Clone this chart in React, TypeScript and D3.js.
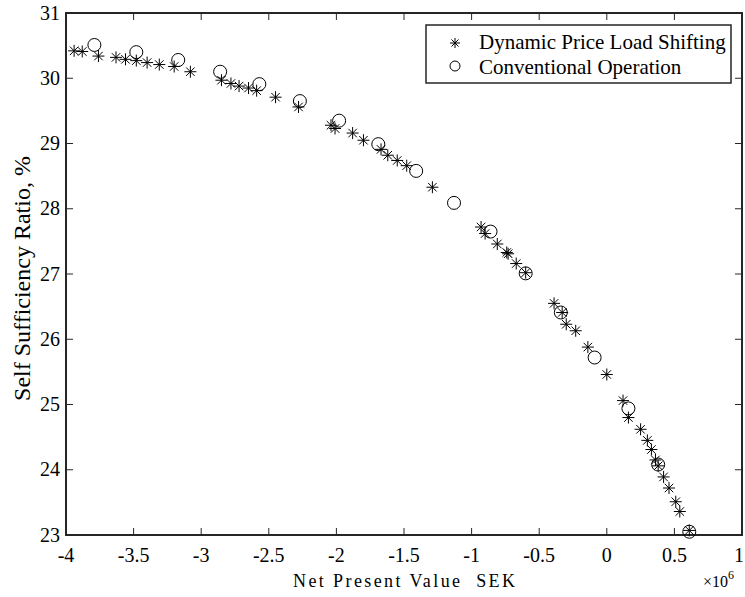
import React from "react";
import * as d3 from "d3";

const dplsX = [-3.94, -3.88, -3.76, -3.63, -3.56, -3.48, -3.40, -3.31, -3.20, -3.08, -2.85, -2.78, -2.72, -2.65, -2.59, -2.45, -2.28, -2.04, -2.01, -1.88, -1.80, -1.67, -1.62, -1.55, -1.48, -1.29, -0.93, -0.90, -0.81, -0.74, -0.73, -0.67, -0.60, -0.39, -0.33, -0.30, -0.23, -0.14, 0.0, 0.12, 0.16, 0.25, 0.30, 0.33, 0.36, 0.38, 0.42, 0.46, 0.51, 0.54, 0.61];
const dplsY = [30.42, 30.41, 30.34, 30.32, 30.29, 30.27, 30.24, 30.21, 30.18, 30.10, 29.97, 29.92, 29.88, 29.85, 29.81, 29.71, 29.56, 29.28, 29.23, 29.16, 29.05, 28.91, 28.82, 28.74, 28.66, 28.33, 27.72, 27.62, 27.46, 27.33, 27.31, 27.16, 27.02, 26.55, 26.41, 26.23, 26.13, 25.88, 25.46, 25.06, 24.80, 24.62, 24.45, 24.31, 24.15, 24.06, 23.89, 23.72, 23.51, 23.36, 23.07];

const convX = [-3.79, -3.48, -3.17, -2.86, -2.57, -2.27, -1.98, -1.69, -1.41, -1.13, -0.86, -0.60, -0.34, -0.09, 0.16, 0.38, 0.61];
const convY = [30.51, 30.40, 30.28, 30.10, 29.91, 29.65, 29.35, 28.99, 28.58, 28.09, 27.65, 27.01, 26.41, 25.72, 24.94, 24.08, 23.05];

const xTicks = [-4, -3.5, -3, -2.5, -2, -1.5, -1, -0.5, 0, 0.5, 1];
const yTicks = [23, 24, 25, 26, 27, 28, 29, 30, 31];

const seriesNames = ["Dynamic Price Load Shifting", "Conventional Operation"];

const L = 66, R = 742, T = 13, B = 535;
const FONT = '"Liberation Serif", "Times New Roman", Times, serif';
const AX = "#262626";

function Star({ cx, cy, s }: { cx: number; cy: number; s: number }) {
  const d = s * 0.7071;
  return (
    <g stroke="#000" strokeWidth={1}>
      <line x1={cx - s} y1={cy} x2={cx + s} y2={cy} />
      <line x1={cx} y1={cy - s} x2={cx} y2={cy + s} />
      <line x1={cx - d} y1={cy - d} x2={cx + d} y2={cy + d} />
      <line x1={cx - d} y1={cy + d} x2={cx + d} y2={cy - d} />
    </g>
  );
}

export default function App() {
  const x = d3.scaleLinear().domain([-4, 1]).range([L, R]);
  const y = d3.scaleLinear().domain([23, 31]).range([B, T]);
  const tl = 7;
  const tx = { fontFamily: FONT };
  const last = xTicks[xTicks.length - 1];
  return (
    <div style={{ position: "fixed", left: 0, top: 0 }}>
      <svg width={745} height={597} style={{ display: "block", background: "#fff" }}>
        <rect x={0} y={0} width={745} height={597} fill="#fff" />
        {xTicks.map((t) => (
          <g key={"xt" + t}>
            <line x1={x(t)} x2={x(t)} y1={B} y2={B - tl} stroke={AX} strokeWidth={1} />
            <line x1={x(t)} x2={x(t)} y1={T} y2={T + tl} stroke={AX} strokeWidth={1} />
            <text style={tx} x={t === last ? 744 : x(t)} y={562} textAnchor={t === last ? "end" : "middle"} fontSize={20} fill="#000">
              {String(t)}
            </text>
          </g>
        ))}
        {yTicks.map((t) => (
          <g key={"yt" + t}>
            <line x1={L} x2={L + tl} y1={y(t)} y2={y(t)} stroke={AX} strokeWidth={1} />
            <line x1={R} x2={R - tl} y1={y(t)} y2={y(t)} stroke={AX} strokeWidth={1} />
            <text style={tx} x={60} y={y(t)} dy="0.33em" textAnchor="end" fontSize={20} fill="#000">
              {String(t)}
            </text>
          </g>
        ))}
        <rect x={L} y={T} width={R - L} height={B - T} fill="none" stroke={AX} strokeWidth={2} />
        {convX.map((v, i) => (
          <circle key={"c" + i} cx={x(v)} cy={y(convY[i])} r={6.5} fill="none" stroke="#000" strokeWidth={1} />
        ))}
        {dplsX.map((v, i) => (
          <Star key={"s" + i} cx={x(v)} cy={y(dplsY[i])} s={6} />
        ))}
        <text x={293} y={587} fontSize={18} fill="#000" textLength={222} lengthAdjust="spacing" style={{ whiteSpace: "pre", fontFamily: FONT }}>
          {"Net Present Value  SEK"}
        </text>
        <text style={tx} x={703} y={587} fontSize={16} fill="#000">
          ×10<tspan dy={-8} fontSize={12}>6</tspan>
        </text>
        <text style={tx} transform={`translate(30,${(155 + 402) / 2}) rotate(-90)`} textAnchor="middle" fontSize={24} fill="#000">
          Self Sufficiency Ratio, %
        </text>
        <rect x={426} y={25} width={305} height={58} fill="#fff" stroke={AX} strokeWidth={1.5} />
        <Star cx={455} cy={43} s={5} />
        <circle cx={455} cy={66} r={5} fill="none" stroke="#000" strokeWidth={1} />
        <text style={tx} x={479} y={49} fontSize={21} fill="#000">{seriesNames[0]}</text>
        <text style={tx} x={479} y={74} fontSize={21} fill="#000">{seriesNames[1]}</text>
      </svg>
    </div>
  );
}
